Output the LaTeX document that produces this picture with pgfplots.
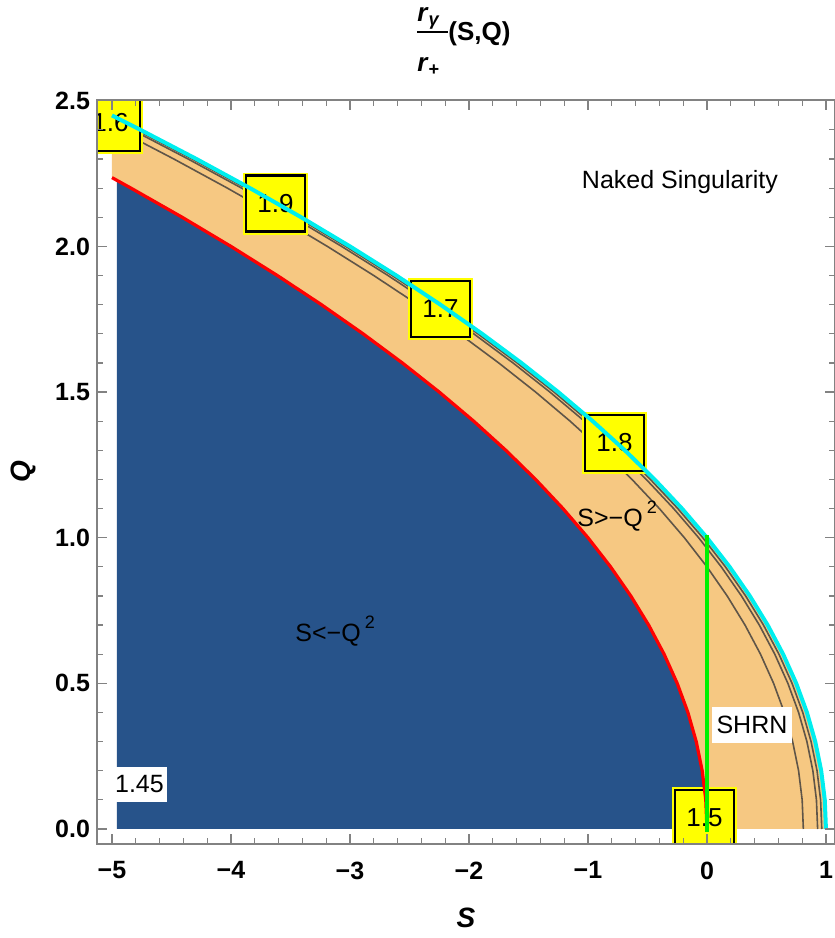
\documentclass[border=0pt]{standalone}
\usepackage{fontspec}
\setmainfont{Liberation Sans}
\usepackage{pgfplots}
\pgfplotsset{compat=1.18}
\definecolor{cblue}{RGB}{39,83,138}
\definecolor{corange}{RGB}{246,200,130}
\definecolor{cgray}{RGB}{95,85,72}
\definecolor{cframe}{RGB}{130,130,130}
\definecolor{ccyan}{RGB}{0,238,238}
\definecolor{cgreen}{RGB}{0,240,0}
\definecolor{cyel}{RGB}{255,255,0}
\tikzset{
  ybox/.style={draw=black, line width=1.2pt, fill=cyel, minimum width=29.5pt, minimum height=28pt, inner sep=0pt, font=\fontsize{13}{15}\selectfont, preaction={draw=cyel, line width=3pt}},
  wbox/.style={fill=white, inner sep=0pt, font=\fontsize{12.5}{14}\selectfont},
}
\begin{document}
\begin{tikzpicture}[x=1pt,y=1pt]
\begin{axis}[
  at={(0,0)}, anchor=south west,
  scale only axis, width=369pt, height=372pt,
  xmin=-5.126, xmax=1.076, ymin=-0.0515, ymax=2.5026,
  axis on top,
  axis line style={cframe, line width=0.8pt},
  tick style={cframe, line width=0.6pt},
  major tick length=5pt, minor tick length=3pt,
  tick align=inside,
  xtick={-5,-4,-3,-2,-1,0,1},
  xticklabels={−5,−4,−3,−2,−1,0,1},
  ytick={0,0.5,1,1.5,2,2.5},
  yticklabels={0.0,0.5,1.0,1.5,2.0,2.5},
  minor x tick num=4, minor y tick num=4,
  ticklabel style={font=\fontsize{12.5}{14}\selectfont\bfseries, text=black},
  xticklabel style={yshift=-5.3pt},
  xlabel={\textbf{\textit{S}}},
  ylabel={\textbf{\textit{Q}}},
  label style={font=\fontsize{14}{16}\selectfont},
  xlabel style={at={(axis description cs:0.5,-0.0995)}, anchor=center},
  ylabel style={at={(axis description cs:-0.1003,0.5)}, anchor=center},
]
% orange band between S=-Q^2 and S=1-Q^2
\addplot[draw=none, fill=corange] coordinates {
(0,0) (1,0) (0.99,0.1) (0.96,0.2) (0.91,0.3) (0.84,0.4) (0.75,0.5) (0.64,0.6) (0.51,0.7) (0.36,0.8) (0.19,0.9) (0,1) (-0.21,1.1) (-0.44,1.2) (-0.69,1.3) (-0.96,1.4) (-1.25,1.5) (-1.56,1.6) (-1.89,1.7) (-2.24,1.8) (-2.61,1.9) (-3,2) (-3.41,2.1) (-3.84,2.2) (-4.29,2.3) (-4.76,2.4) (-5,2.4495)
(-5,2.2361) (-4.84,2.2) (-4.41,2.1) (-4,2) (-3.61,1.9) (-3.24,1.8) (-2.89,1.7) (-2.56,1.6) (-2.25,1.5) (-1.96,1.4) (-1.69,1.3) (-1.44,1.2) (-1.21,1.1) (-1,1) (-0.81,0.9) (-0.64,0.8) (-0.49,0.7) (-0.36,0.6) (-0.25,0.5) (-0.16,0.4) (-0.09,0.3) (-0.04,0.2) (-0.01,0.1) (0,0)
};
% blue region S<-Q^2
\addplot[draw=none, fill=cblue] coordinates {
(-4.96,0) (0,0) (-0.01,0.1) (-0.04,0.2) (-0.09,0.3) (-0.16,0.4) (-0.25,0.5) (-0.36,0.6) (-0.49,0.7) (-0.64,0.8) (-0.81,0.9) (-1,1) (-1.21,1.1) (-1.44,1.2) (-1.69,1.3) (-1.96,1.4) (-2.25,1.5) (-2.56,1.6) (-2.89,1.7) (-3.24,1.8) (-3.61,1.9) (-4,2) (-4.41,2.1) (-4.84,2.2) (-4.96,2.2271) (-4.96,0)
};
% gray contours
\addplot[cgray, line width=0.8pt] coordinates {
(0.81,0) (0.80,0.1) (0.77,0.2) (0.72,0.3) (0.65,0.4) (0.56,0.5) (0.45,0.6) (0.32,0.7) (0.17,0.8) (0,0.9) (-0.19,1) (-0.40,1.1) (-0.63,1.2) (-0.88,1.3) (-1.15,1.4) (-1.44,1.5) (-1.75,1.6) (-2.08,1.7) (-2.43,1.8) (-2.80,1.9) (-3.19,2) (-3.60,2.1) (-4.03,2.2) (-4.48,2.3) (-4.95,2.4) (-5,2.4104)
};
\addplot[cgray, line width=0.8pt] coordinates {
(0.93,0) (0.92,0.1) (0.89,0.2) (0.84,0.3) (0.77,0.4) (0.68,0.5) (0.57,0.6) (0.44,0.7) (0.29,0.8) (0.12,0.9) (-0.07,1) (-0.28,1.1) (-0.51,1.2) (-0.76,1.3) (-1.03,1.4) (-1.32,1.5) (-1.63,1.6) (-1.96,1.7) (-2.31,1.8) (-2.68,1.9) (-3.07,2) (-3.48,2.1) (-3.91,2.2) (-4.36,2.3) (-4.83,2.4) (-5,2.4352)
};
\addplot[cgray, line width=0.8pt] coordinates {
(0.965,0) (0.955,0.1) (0.925,0.2) (0.875,0.3) (0.805,0.4) (0.715,0.5) (0.605,0.6) (0.475,0.7) (0.325,0.8) (0.155,0.9) (-0.035,1) (-0.245,1.1) (-0.475,1.2) (-0.725,1.3) (-0.995,1.4) (-1.285,1.5) (-1.595,1.6) (-1.925,1.7) (-2.275,1.8) (-2.645,1.9) (-3.035,2) (-3.445,2.1) (-3.875,2.2) (-4.325,2.3) (-4.795,2.4) (-5,2.4423)
};
% contour value boxes
\node[ybox] at (axis cs:-5.013,2.424) {1.6};
\node[ybox] at (axis cs:-3.626,2.147) {1.9};
\node[ybox] at (axis cs:-2.24,1.785) {1.7};
\node[ybox] at (axis cs:-0.777,1.325) {1.8};
\node[ybox] at (axis cs:-0.021,0.038) {1.5};
% boundary lines
\addplot[red, line width=1.6pt] coordinates {
(0,0) (-0.01,0.1) (-0.04,0.2) (-0.09,0.3) (-0.16,0.4) (-0.25,0.5) (-0.36,0.6) (-0.49,0.7) (-0.64,0.8) (-0.81,0.9) (-1,1) (-1.21,1.1) (-1.44,1.2) (-1.69,1.3) (-1.96,1.4) (-2.25,1.5) (-2.56,1.6) (-2.89,1.7) (-3.24,1.8) (-3.61,1.9) (-4,2) (-4.41,2.1) (-4.84,2.2) (-5,2.2361)
};
\addplot[ccyan, line width=2pt] coordinates {
(1,0) (0.99,0.1) (0.96,0.2) (0.91,0.3) (0.84,0.4) (0.75,0.5) (0.64,0.6) (0.51,0.7) (0.36,0.8) (0.19,0.9) (0,1) (-0.21,1.1) (-0.44,1.2) (-0.69,1.3) (-0.96,1.4) (-1.25,1.5) (-1.56,1.6) (-1.89,1.7) (-2.24,1.8) (-2.61,1.9) (-3,2) (-3.41,2.1) (-3.84,2.2) (-4.29,2.3) (-4.76,2.4) (-5,2.4495)
};
\addplot[cgreen, line width=2pt] coordinates {(0,-0.01) (0,1.01)};
% labels
\node[wbox, minimum width=27.5pt, minimum height=17.5pt] at (axis cs:-4.769,0.153) {1.45};
\node[wbox, minimum width=40pt, minimum height=18pt] at (axis cs:0.378,0.357) {SHRN};
\node[font=\fontsize{12.5}{14}\selectfont] at (axis cs:-0.227,2.221) {Naked Singularity};
\node[anchor=base west, inner sep=0pt, font=\fontsize{12.5}{14}\selectfont] at (axis cs:-1.092,1.037) {S>−Q\,\raisebox{6.8pt}{\fontsize{9}{10}\selectfont 2}};
\node[anchor=base west, inner sep=0pt, font=\fontsize{12.5}{14}\selectfont] at (axis cs:-3.462,0.642) {S<−Q\,\raisebox{6.8pt}{\fontsize{9}{10}\selectfont 2}};
\end{axis}
% title
\draw[black, line width=1pt] (160,406) -- (175.5,406);
\node[anchor=base west, inner sep=0pt, font=\fontsize{13}{15}\selectfont\bfseries] at (160,411) {\textit{r}\textsubscript{\textit{γ}}};
\node[anchor=base west, inner sep=0pt, font=\fontsize{13}{15}\selectfont\bfseries] at (160,386) {\textit{r}\textsubscript{+}};
\node[anchor=base west, inner sep=0pt, font=\fontsize{13}{15}\selectfont\bfseries] at (175.5,401.5) {(S,Q)};
\pgfresetboundingbox
\path (-48.5,-47) rectangle (369,422);
\end{tikzpicture}
\end{document}
